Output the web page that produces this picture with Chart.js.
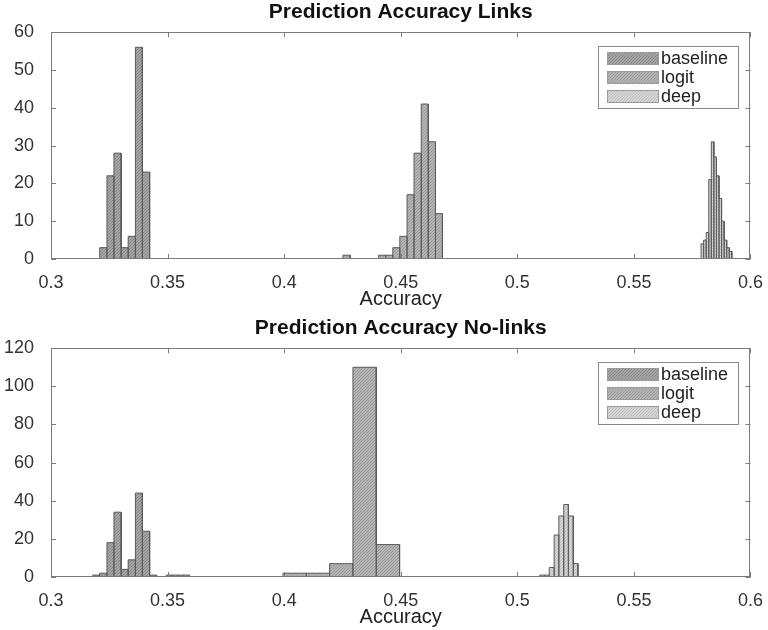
<!DOCTYPE html>
<html>
<head>
<meta charset="utf-8">
<script src="https://cdn.jsdelivr.net/npm/chart.js@4.4.0/dist/chart.umd.min.js"></script>
<style>
html, body { margin: 0; padding: 0; background: #fff; }
#wrap { position: relative; width: 768px; height: 630px; }
.box { position: absolute; left: 0; width: 768px; }
#top { top: 0; height: 312px; }
#bottom { top: 316px; height: 314px; }
</style>
</head>
<body>
<div id="wrap">
    <div class="box" id="top"><canvas id="linksChart"></canvas></div>
    <div class="box" id="bottom"><canvas id="noLinksChart"></canvas></div>
</div>
<script>
const seriesNames = ['baseline', 'logit', 'deep'];

// Prediction Accuracy Links (bin edges + counts)
const linksBaselineEdges = [0.3209, 0.3240, 0.3270, 0.3301, 0.3331, 0.3362, 0.3392, 0.3423];
const linksBaselineCounts = [3, 22, 28, 3, 6, 56, 23];
const linksLogitEdges = [0.4252, 0.4283, 0.4313, 0.4344, 0.4374, 0.4405, 0.4435, 0.4466, 0.4496, 0.4527, 0.4557, 0.4588, 0.4618, 0.4649, 0.4679];
const linksLogitCounts = [1, 0, 0, 0, 0, 1, 1, 3, 6, 17, 28, 41, 31, 12];
const linksDeepEdges = [0.5788, 0.5799, 0.5810, 0.5821, 0.5832, 0.5843, 0.5854, 0.5865, 0.5876, 0.5887, 0.5898, 0.5909, 0.5920];
const linksDeepCounts = [4, 5, 7, 21, 31, 27, 22, 16, 10, 5, 3, 2];

// Prediction Accuracy No-links
const noLinksBaselineEdges = [0.3179, 0.3209, 0.3240, 0.3270, 0.3301, 0.3331, 0.3362, 0.3392, 0.3423, 0.3453];
const noLinksBaselineCounts = [1, 2, 18, 34, 4, 9, 44, 24, 1];
const noLinksLogitEdges = [0.3494, 0.3519, 0.3544, 0.3569, 0.3594, 0.3995, 0.4095, 0.4195, 0.4295, 0.4395, 0.4495];
const noLinksLogitCounts = [1, 1, 1, 1, 0, 2, 2, 7, 110, 17];
const noLinksDeepEdges = [0.5096, 0.5117, 0.5137, 0.5158, 0.5178, 0.5199, 0.5219, 0.5240, 0.5260];
const noLinksDeepCounts = [1, 1, 5, 22, 32, 38, 32, 7];

// axis ticks
const xTickMin = 0.3, xTickMax = 0.6, xTickStep = 0.05;
const linksYMax = 60, linksYStep = 10;
const noLinksYMax = 120, noLinksYStep = 20;

const FONT = '"Liberation Sans", Arial, Helvetica, sans-serif';
const edgeColor = '#5a5a5a';

function stipple(base, dot) {
    const c = document.createElement('canvas');
    c.width = 3; c.height = 3;
    const g = c.getContext('2d');
    g.fillStyle = base;
    g.fillRect(0, 0, 3, 3);
    g.fillStyle = dot;
    g.fillRect(0, 0, 1, 1);
    g.fillRect(2, 1, 1, 1);
    g.fillRect(1, 2, 1, 1);
    return g.createPattern(c, 'repeat');
}

const fills = [
    stipple('#a6a6a6', '#878787'),
    stipple('#b5b5b5', '#989898'),
    stipple('#d6d6d6', '#bcbcbc')
];

// turn bin edges/counts into an outline of bars
function histPoints(edges, counts) {
    const pts = [];
    counts.forEach((c, i) => {
        pts.push({x: edges[i], y: 0}, {x: edges[i], y: c}, {x: edges[i + 1], y: c}, {x: edges[i + 1], y: 0});
    });
    return pts;
}

// box around the axes, inward ticks and a MATLAB style legend
const frameAndLegend = {
    id: 'frameAndLegend',
    afterDraw(chart) {
        const ctx = chart.ctx;
        const a = chart.chartArea;
        const x = chart.scales.x, y = chart.scales.y;
        ctx.save();
        ctx.strokeStyle = '#7c7c7c';
        ctx.lineWidth = 1;
        ctx.strokeRect(Math.round(a.left) + 0.5, Math.round(a.top) + 0.5,
            Math.round(a.right - a.left) - 1, Math.round(a.bottom - a.top) - 1);

        const t = 5;
        ctx.beginPath();
        x.ticks.forEach(tk => {
            const px = Math.round(x.getPixelForValue(tk.value)) + 0.5;
            ctx.moveTo(px, a.bottom); ctx.lineTo(px, a.bottom - t);
            ctx.moveTo(px, a.top); ctx.lineTo(px, a.top + t);
        });
        y.ticks.forEach(tk => {
            const py = Math.round(y.getPixelForValue(tk.value)) + 0.5;
            ctx.moveTo(a.left, py); ctx.lineTo(a.left + t, py);
            ctx.moveTo(a.right, py); ctx.lineTo(a.right - t, py);
        });
        ctx.stroke();

        const bw = 140, bh = 62;
        const bx = Math.round(a.right - 12 - bw), by = Math.round(a.top + 14);
        ctx.fillStyle = '#fff';
        ctx.fillRect(bx, by, bw, bh);
        ctx.strokeStyle = '#8a8a8a';
        ctx.strokeRect(bx + 0.5, by + 0.5, bw, bh);
        ctx.font = '18px ' + FONT;
        ctx.textBaseline = 'middle';
        chart.data.datasets.forEach((ds, i) => {
            const ry = by + 12 + i * 19;
            ctx.fillStyle = ds.backgroundColor;
            ctx.fillRect(bx + 9, ry - 6, 51, 13);
            ctx.strokeStyle = '#9a9a9a';
            ctx.strokeRect(bx + 9.5, ry - 5.5, 51, 12);
            ctx.fillStyle = '#222';
            ctx.fillText(ds.label, bx + 63, ry + 1);
        });
        ctx.restore();
    }
};

function makeChart(canvasId, titleText, yMax, yStep, series) {
    const ctx = document.getElementById(canvasId).getContext('2d');
    return new Chart(ctx, {
        type: 'line',
        data: {
            datasets: series.map((s, i) => ({
                label: seriesNames[i],
                data: histPoints(s[0], s[1]),
                fill: 'origin',
                backgroundColor: fills[i],
                borderColor: edgeColor,
                borderWidth: 1,
                pointRadius: 0,
                tension: 0
            }))
        },
        options: {
            responsive: true,
            maintainAspectRatio: false,
            animation: false,
            layout: { padding: { left: 0, right: 15, top: 0, bottom: 0 } },
            plugins: {
                legend: { display: false },
                tooltip: { enabled: false },
                title: {
                    display: true,
                    fullSize: false,
                    text: titleText,
                    color: '#111',
                    font: { family: FONT, size: 21, weight: 'bold' },
                    padding: { top: 0, bottom: 7 }
                }
            },
            scales: {
                x: {
                    type: 'linear',
                    min: xTickMin,
                    max: xTickMax,
                    grid: { display: false },
                    border: { display: false },
                    ticks: {
                        stepSize: xTickStep,
                        padding: 5,
                        color: '#333',
                        maxRotation: 0,
                        autoSkip: false,
                        font: { family: FONT, size: 18 },
                        callback: v => String(Number(v.toFixed(2)))
                    },
                    title: {
                        display: true,
                        text: 'Accuracy',
                        color: '#222',
                        font: { family: FONT, size: 20 },
                        padding: { top: 0, bottom: 1 }
                    },
                    afterFit: s => { s.height = 53; }
                },
                y: {
                    min: 0,
                    max: yMax,
                    grid: { display: false },
                    border: { display: false },
                    ticks: {
                        stepSize: yStep,
                        padding: 9,
                        color: '#333',
                        font: { family: FONT, size: 18 }
                    },
                    afterFit: s => { s.width = 51; }
                }
            }
        },
        plugins: [frameAndLegend]
    });
}

makeChart('linksChart', 'Prediction Accuracy Links', linksYMax, linksYStep, [
    [linksBaselineEdges, linksBaselineCounts],
    [linksLogitEdges, linksLogitCounts],
    [linksDeepEdges, linksDeepCounts]
]);

makeChart('noLinksChart', 'Prediction Accuracy No-links', noLinksYMax, noLinksYStep, [
    [noLinksBaselineEdges, noLinksBaselineCounts],
    [noLinksLogitEdges, noLinksLogitCounts],
    [noLinksDeepEdges, noLinksDeepCounts]
]);
</script>
</body>
</html>
